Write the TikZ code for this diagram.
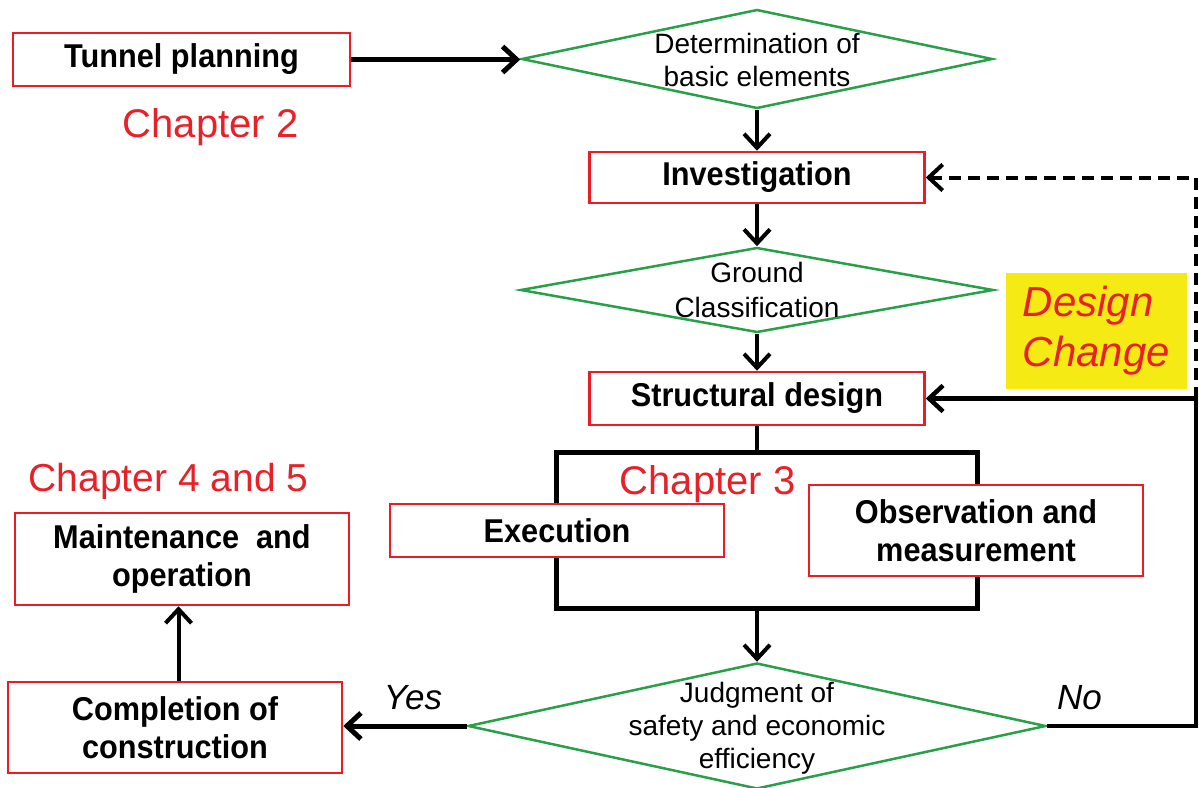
\documentclass[tikz,border=0pt]{standalone}
\usepackage{fontspec}
\setmainfont{Liberation Sans}
\newfontfamily\boxfont[FakeStretch=0.93]{Liberation Sans}
\usetikzlibrary{arrows.meta,shapes.geometric}
\definecolor{bred}{RGB}{237,28,36}
\definecolor{cred}{RGB}{232,32,40}
\definecolor{dgreen}{RGB}{40,160,72}
\definecolor{ylw}{RGB}{246,234,20}
\newcommand{\fsz}[2]{\fontsize{#1}{#2}\selectfont}
\begin{document}
\begin{tikzpicture}[x=1pt,y=-1pt,
  redbox/.style={draw=bred, line width=2.5pt, fill=white, inner sep=0pt, align=center, font=\boxfont\fsz{33}{38}\bfseries},
  gdiam/.style={diamond, draw=dgreen, line width=2.5pt, inner sep=0pt},
  dtext/.style={align=center, font=\fsz{28}{34}, inner sep=0pt},
  chap/.style={text=cred, font=\fsz{40}{48}, inner sep=0pt, anchor=base},
  yn/.style={font=\fsz{35}{40}\itshape, inner sep=0pt, anchor=base},
  arr/.style={line width=4pt, -{Straight Barb[length=14pt,width=26pt]}},
  thickline/.style={line width=4.5pt},
  dashline/.style={line width=4pt, dash pattern=on 12pt off 7pt, -{Straight Barb[length=14pt,width=26pt]}}
]
\useasboundingbox (0,0) rectangle (1199,787);

% top row
\node[redbox, minimum width=337pt, minimum height=53pt] (tp) at (181.5,59.5) {Tunnel planning};
\node[chap] (ch2) at (210.5,137) {Chapter 2};
\node[gdiam, minimum width=471pt, minimum height=99pt] (d1) at (757,59) {};
\node[dtext] (t1) at (757,60) {Determination of\\[-1pt]basic elements};

% column
\node[redbox, minimum width=335pt, minimum height=51pt] (inv) at (757,177.5) {Investigation};
\node[gdiam, minimum width=473pt, minimum height=85pt] (d2) at (757,290) {};
\node[dtext, font=\fsz{28}{35}] (t2) at (757,290) {Ground\\Classification};
\node[redbox, minimum width=335pt, minimum height=53pt] (sd) at (757,398.5) {Structural design};

\node[fill=ylw, minimum width=181pt, minimum height=116pt, inner sep=0pt, align=left,
      text=cred, font=\fsz{42}{50}\itshape] (dc) at (1096.5,331) {Design\\Change};

% big box
\node[draw=black, line width=5pt, minimum width=421pt, minimum height=156pt, inner sep=0pt] (bb) at (766.5,530) {};
\node[redbox, minimum width=334pt, minimum height=53pt] (ex) at (557,530.5) {Execution};
\node[redbox, minimum width=334pt, minimum height=91pt] (ob) at (976,530.5) {Observation and\\measurement};
\node[chap] (ch3) at (707.5,494) {Chapter 3};

% left column
\node[chap, font=\fsz{39}{46}] (ch45) at (168.5,491) {Chapter 4 and 5};
\node[redbox, minimum width=334pt, minimum height=92pt] (mt) at (182,559) {Maintenance\ \ and\\operation};
\node[redbox, minimum width=334pt, minimum height=91pt] (cp) at (175,727.5) {Completion of\\construction};

% judgment
\node[gdiam, minimum width=578pt, minimum height=126pt] (d3) at (757,726) {};
\node[dtext, font=\fsz{28}{33}] (t3) at (757,728) {Judgment of\\safety and economic\\efficiency};
\node[yn] (yes) at (413,709) {Yes};
\node[yn] (no) at (1079.5,709) {No};

\coordinate (rl) at (1196,0);
\coordinate (ax) at (178.5,0);

% connectors
\draw[arr, line width=5pt] (tp.east) -- (tp.east -| d1.west);
\draw[arr] (d1.south) -- (d1.south |- inv.north);
\draw[arr] (inv.south) -- (inv.south |- d2.north);
\draw[arr] (d2.south) -- (d2.south |- sd.north);
\draw[thickline] (sd.south) -- (sd.south |- bb.north);
\draw[arr] (d3.north |- bb.south) -- (d3.north);
\draw[arr, line width=5pt] (d3.west) -- (d3.west -| cp.east);
\draw[arr] (cp.north -| ax) -- (mt.south -| ax);
\draw[arr, line width=4.5pt] (d3.east) -- (d3.east -| rl) |- (sd.east);
\draw[dashline] (sd.east -| rl) |- (inv.east);
\end{tikzpicture}
\end{document}
